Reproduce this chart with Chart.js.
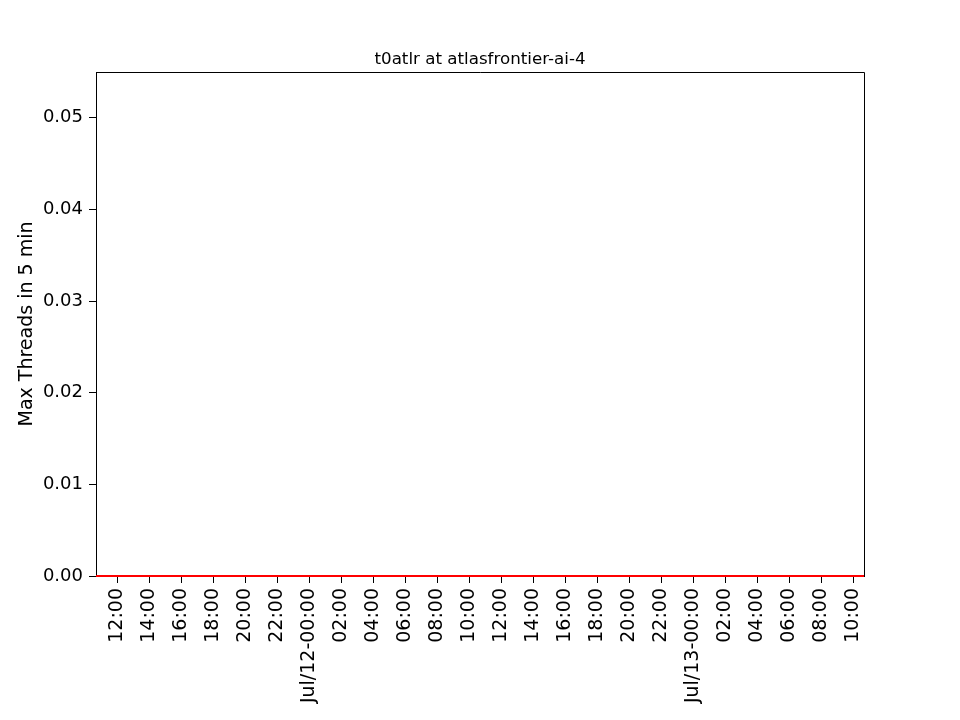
<!DOCTYPE html>
<html>
<head>
<meta charset="utf-8">
<script src="https://cdn.jsdelivr.net/npm/chart.js@4"></script>
<style>
    html, body { margin: 0; padding: 0; background: #ffffff; }
    #wrap { width: 960px; height: 720px; position: relative; }
</style>
</head>
<body>
<div id="wrap"><canvas id="threadsChart"></canvas></div>
<script>
// hours counted from Jul/11 12:00
const tickHours = [0, 2, 4, 6, 8, 10, 12, 14, 16, 18, 20, 22, 24, 26, 28, 30, 32, 34, 36, 38, 40, 42, 44, 46];
const tickLabels = ['12:00', '14:00', '16:00', '18:00', '20:00', '22:00', 'Jul/12-00:00',
    '02:00', '04:00', '06:00', '08:00', '10:00', '12:00', '14:00', '16:00', '18:00', '20:00', '22:00',
    'Jul/13-00:00', '02:00', '04:00', '06:00', '08:00', '10:00'];
const yTicks = [0, 0.01, 0.02, 0.03, 0.04, 0.05];

// sample times (hours) and max threads seen in each window
const sampleHours = [-1.3125, 2, 6, 10, 14, 18, 22, 26, 30, 34, 38, 42, 46.6875];
const maxThreads = [0, 0, 0, 0, 0, 0, 0, 0, 0, 0, 0, 0, 0];

const chartTitle = 't0atlr at atlasfrontier-ai-4';
const yLabel = 'Max Threads in 5 min';

document.addEventListener('DOMContentLoaded', function () {
    const fontFamily = '"DejaVu Sans", sans-serif';

    // title above the plot and the top/right spines
    const framePlugin = {
        id: 'frame',
        afterDraw(chart) {
            const ctx = chart.ctx;
            const a = chart.chartArea;
            ctx.save();
            ctx.strokeStyle = '#000000';
            ctx.lineWidth = 1;
            ctx.beginPath();
            ctx.moveTo(a.left, a.top + 0.5);
            ctx.lineTo(a.right + 0.5, a.top + 0.5);
            ctx.lineTo(a.right + 0.5, a.bottom);
            ctx.stroke();

            ctx.fillStyle = '#000000';
            ctx.font = '16.7px ' + fontFamily;
            ctx.textAlign = 'center';
            ctx.textBaseline = 'alphabetic';
            ctx.fillText(chartTitle, (a.left + a.right) / 2, a.top - 8);
            ctx.restore();
        }
    };

    const points = sampleHours.map((h, i) => ({ x: h, y: maxThreads[i] }));

    new Chart(document.getElementById('threadsChart'), {
        type: 'line',
        data: {
            datasets: [{
                data: points,
                borderColor: '#ff0000',
                borderWidth: 2,
                pointRadius: 0,
                tension: 0,
                clip: false
            }]
        },
        options: {
            responsive: true,
            maintainAspectRatio: false,
            animation: false,
            layout: { padding: { top: 72, right: 96, left: 0, bottom: 0 } },
            plugins: {
                legend: { display: false },
                tooltip: { enabled: false }
            },
            scales: {
                x: {
                    type: 'linear',
                    min: sampleHours[0],
                    max: sampleHours[sampleHours.length - 1],
                    afterBuildTicks(scale) {
                        scale.ticks = tickHours.map(v => ({ value: v }));
                    },
                    afterFit(scale) {
                        scale.height = 144;
                    },
                    grid: {
                        drawOnChartArea: false,
                        drawTicks: true,
                        tickLength: 7,
                        color: '#000000'
                    },
                    border: { display: true, color: '#000000', width: 1 },
                    ticks: {
                        autoSkip: false,
                        maxRotation: 90,
                        minRotation: 90,
                        padding: 5,
                        color: '#000000',
                        font: { family: fontFamily, size: 19 },
                        callback: function (value, index) {
                            return tickLabels[index];
                        }
                    }
                },
                y: {
                    min: 0,
                    max: 0.055,
                    afterBuildTicks(scale) {
                        scale.ticks = yTicks.map(v => ({ value: v }));
                    },
                    afterFit(scale) {
                        scale.width = 96;
                    },
                    grid: {
                        drawOnChartArea: false,
                        drawTicks: true,
                        tickLength: 7,
                        color: '#000000'
                    },
                    border: { display: true, color: '#000000', width: 1 },
                    ticks: {
                        padding: 6,
                        color: '#000000',
                        font: { family: fontFamily, size: 18 },
                        callback: function (value) {
                            return value.toFixed(2);
                        }
                    },
                    title: {
                        display: true,
                        text: yLabel,
                        color: '#000000',
                        font: { family: fontFamily, size: 19 },
                        padding: { top: 16, bottom: 0 }
                    }
                }
            }
        },
        plugins: [framePlugin]
    });
});
</script>
</body>
</html>
